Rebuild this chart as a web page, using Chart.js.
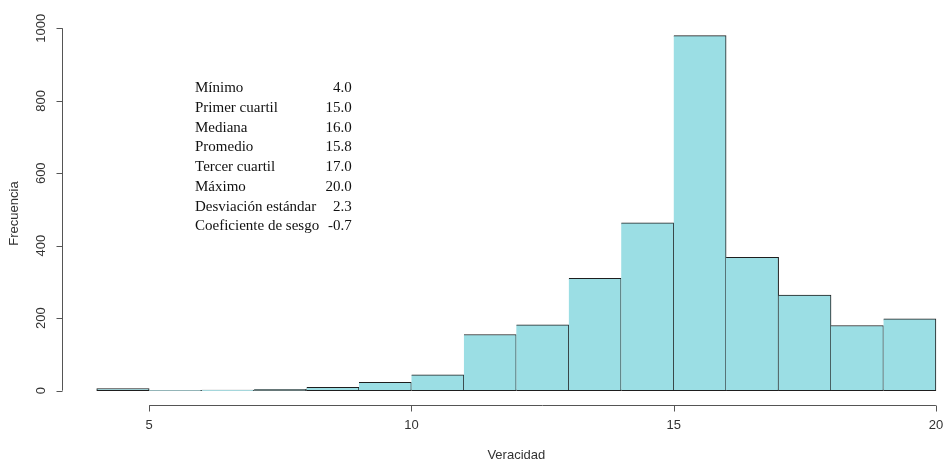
<!DOCTYPE html>
<html>
<head>
<meta charset="utf-8">
<script src="https://cdn.jsdelivr.net/npm/chart.js@4"></script>
<style>
  html, body { margin: 0; padding: 0; background: #fff; }
  #wrap { width: 943px; height: 460px; }
</style>
</head>
<body>
<div id="wrap"><canvas id="histChart"></canvas></div>
<script>
// histograma de Veracidad (clases de ancho 1)
const binStarts = [4, 5, 6, 7, 8, 9, 10, 11, 12, 13, 14, 15, 16, 17, 18, 19];
const counts = [6, 1, 2, 4, 9, 23, 44, 155, 182, 310, 463, 980, 368, 264, 180, 198];
const xTicks = [5, 10, 15, 20];
const yTicks = [0, 200, 400, 600, 800, 1000];

// resumen estadistico
const statLabels = ['Mínimo', 'Primer cuartil', 'Mediana', 'Promedio',
  'Tercer cuartil', 'Máximo', 'Desviación estándar', 'Coeficiente de sesgo'];
const statValues = ['4.0', '15.0', '16.0', '15.8', '17.0', '20.0', '2.3', '-0.7'];

const axisColor = '#555';
const textColor = '#333';

// ejes al estilo R: solo entre el primer y el ultimo tick
const rAxes = {
  id: 'rAxes',
  afterDraw(chart) {
    const { ctx, chartArea, scales: { x, y } } = chart;
    ctx.save();
    ctx.strokeStyle = axisColor;
    ctx.lineWidth = 1;

    // eje x
    const xa = Math.round(chartArea.bottom) + 0.5;
    ctx.beginPath();
    ctx.moveTo(x.getPixelForValue(xTicks[0]), xa);
    ctx.lineTo(x.getPixelForValue(xTicks[xTicks.length - 1]), xa);
    xTicks.forEach(v => {
      const px = Math.round(x.getPixelForValue(v)) + 0.5;
      ctx.moveTo(px, xa);
      ctx.lineTo(px, xa + 6);
    });
    ctx.stroke();

    // eje y
    const ya = Math.round(chartArea.left) - 0.5;
    ctx.beginPath();
    ctx.moveTo(ya, y.getPixelForValue(yTicks[0]));
    ctx.lineTo(ya, y.getPixelForValue(yTicks[yTicks.length - 1]));
    yTicks.forEach(v => {
      const py = Math.round(y.getPixelForValue(v)) + 0.5;
      ctx.moveTo(ya, py);
      ctx.lineTo(ya - 6, py);
    });
    ctx.stroke();

    // etiquetas del eje y (verticales)
    ctx.fillStyle = textColor;
    ctx.font = '13px "Liberation Sans", Arial, sans-serif';
    ctx.textAlign = 'center';
    ctx.textBaseline = 'middle';
    yTicks.forEach(v => {
      ctx.save();
      ctx.translate(41, y.getPixelForValue(v));
      ctx.rotate(-Math.PI / 2);
      ctx.fillText(String(v), 0, 0);
      ctx.restore();
    });

    // titulos de ejes
    ctx.save();
    ctx.translate(14, (chartArea.top + chartArea.bottom) / 2);
    ctx.rotate(-Math.PI / 2);
    ctx.fillText('Frecuencia', 0, 0);
    ctx.restore();
    ctx.fillText('Veracidad', x.getPixelForValue(12), 455);

    // cuadro de resumen
    ctx.fillStyle = '#111';
    ctx.font = '15px "Liberation Serif", "Times New Roman", serif';
    const left = x.getPixelForValue(5.874);
    const right = x.getPixelForValue(8.862);
    const top = y.getPixelForValue(834);
    statLabels.forEach((lab, i) => {
      const py = top + i * 19.7;
      ctx.textAlign = 'left';
      ctx.fillText(lab, left, py);
      ctx.textAlign = 'right';
      ctx.fillText(statValues[i], right, py);
    });
    ctx.restore();
  }
};

const dataHist = {
  datasets: [{
    label: 'Veracidad',
    data: binStarts.map((b, i) => ({ x: b + 0.5, y: counts[i] })),
    backgroundColor: 'rgb(155, 222, 228)',
    borderColor: '#1e1e1e',
    borderWidth: ctx => ({ top: 1, right: 1, bottom: 1, left: ctx.dataIndex === 0 ? 1 : 0 }),
    borderSkipped: false,
    barPercentage: 1,
    categoryPercentage: 1
  }]
};

const configHist = {
  type: 'bar',
  data: dataHist,
  options: {
    responsive: true,
    maintainAspectRatio: false,
    animation: false,
    layout: { padding: { top: 22, left: 0, right: 0, bottom: 0 } },
    plugins: {
      legend: { display: false },
      tooltip: { enabled: false }
    },
    scales: {
      x: {
        type: 'linear',
        offset: false,
        min: 3.357,
        max: 20.135,
        grid: { display: false, drawTicks: false, offset: false },
        border: { display: false },
        afterBuildTicks: s => { s.ticks = xTicks.map(v => ({ value: v })); },
        afterFit: s => {
          s.height = 55;
          s.paddingLeft = 0;
          s.paddingRight = 0;
        },
        ticks: {
          padding: 13,
          color: textColor,
          font: { family: '"Liberation Sans", Arial, sans-serif', size: 13 }
        }
      },
      y: {
        min: -39.5,
        max: 1017.4,
        grid: { display: false, drawTicks: false },
        border: { display: false },
        afterBuildTicks: s => { s.ticks = yTicks.map(v => ({ value: v })); },
        afterFit: s => { s.width = 63; },
        ticks: { display: false }
      }
    }
  },
  plugins: [rAxes]
};

const histChart = new Chart(document.getElementById('histChart'), configHist);
</script>
</body>
</html>
